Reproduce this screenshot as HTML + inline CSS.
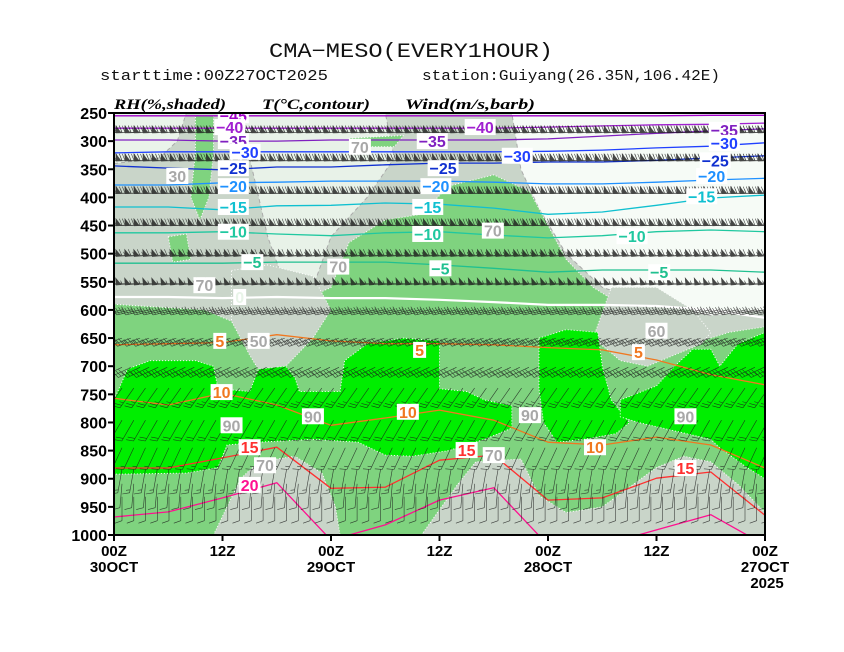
<!DOCTYPE html>
<html><head><meta charset="utf-8"><style>
html,body{margin:0;padding:0;background:#fff;}
svg{display:block;}
</style></head><body>
<svg id="chart" width="844" height="652" viewBox="0 0 844 652" xmlns="http://www.w3.org/2000/svg">
<defs><clipPath id="plotclip"><rect x="114" y="113" width="651" height="422"/></clipPath></defs>
<text x="269" y="57" font-family="Liberation Mono, monospace" font-size="20" textLength="284" lengthAdjust="spacingAndGlyphs" fill="#111">CMA−MESO(EVERY1HOUR)</text>
<text x="100" y="80" font-family="Liberation Mono, monospace" font-size="15" textLength="228" lengthAdjust="spacingAndGlyphs" fill="#111">starttime:00Z27OCT2025</text>
<text x="422" y="80" font-family="Liberation Mono, monospace" font-size="15" textLength="298" lengthAdjust="spacingAndGlyphs" fill="#111">station:Guiyang(26.35N,106.42E)</text>
<text x="114" y="109" font-family="Liberation Serif, serif" font-size="15" font-style="italic" font-weight="bold" textLength="112" lengthAdjust="spacingAndGlyphs">RH(%,shaded)</text>
<text x="262" y="109" font-family="Liberation Serif, serif" font-size="15" font-style="italic" font-weight="bold" textLength="108" lengthAdjust="spacingAndGlyphs">T(°C,contour)</text>
<text x="405" y="109" font-family="Liberation Serif, serif" font-size="15" font-style="italic" font-weight="bold" textLength="130" lengthAdjust="spacingAndGlyphs">Wind(m/s,barb)</text>
<g id="plot" clip-path="url(#plotclip)"></g>
<g id="axes"></g>
</svg>
<script>
// ---- data ----
const hours = [0,6,12,18,24,30,36,42,48,54,60,66,72];
const isoLevels = [-45,-40,-35,-30,-25,-20,-15,-10,-5,0,5,10,15,20];
const isoColors = ["#a000c8","#a020d0","#8020c0","#2040ff","#1030d0","#1e90ff","#10c0d0","#20c8a0","#20c090","#ffffff","#f07820","#f07820","#ff3030","#ff1090"];
const isoM45 = [255,255,255,255,255,255,255,255,255,255,255,254,254];
const isoM40 = [277,277,277,277,277,277,277,277,275,273,271,270,268];
const isoM35 = [298,298,300,300,298,298,298,298,296,291,286,282,278];
const isoM30 = [321,319,319,319,319,319,319,319,318,316,312,309,303];
const isoM25 = [344,348,351,346,346,342,339,339,337,337,334,330,326];
const isoM20 = [378,378,374,373,371,371,371,373,376,376,373,369,366];
const isoM15 = [417,417,422,415,414,410,412,419,430,426,414,401,396];
const isoM10 = [463,463,461,465,468,463,461,467,472,468,461,458,461];
const isoM5 = [517,517,517,515,515,515,520,526,533,529,529,529,533];
const iso0 = [577,577,579,577,579,579,582,586,591,591,593,600,614];
const iso5 = [662,660,658,644,655,660,660,662,667,671,689,715,733];
const iso10 = [757,769,748,769,805,792,778,796,835,840,826,840,881];
const iso15 = [881,881,863,844,917,915,867,858,938,934,899,888,965];
const iso20 = [968,959,934,907,1009,982,938,916,1018,1018,991,964,1018];
const isoSeries = [isoM45,isoM40,isoM35,isoM30,isoM25,isoM20,isoM15,isoM10,isoM5,iso0,iso5,iso10,iso15,iso20];
const isoLabels = [["-45",13.2,254,0],["-40",12.8,275,1],["-40",40.5,275,1],["-35",13.2,300,2],["-35",35.2,300,2],["-35",67.5,280,2],
 ["-30",14.5,319,3],["-30",44.6,326,3],["-30",67.5,303,3],["-25",13.2,348,4],["-25",36.4,348,4],["-25",66.5,334,4],
 ["-20",13.2,380,5],["-20",35.6,380,5],["-20",66.1,362,5],["-15",13.2,417,6],["-15",34.7,417,6],["-15",65,398,6],
 ["-10",13.2,461,7],["-10",34.7,465,7],["-10",57.3,469,7],["-5",15.3,515,8],["-5",36.1,526,8],["-5",60.3,533,8],
 ["0",13.9,577,9],["5",11.7,655,10],["5",33.8,671,10],["5",58,675,10],["10",11.9,746,11],["10",32.5,781,11],["10",53.2,844,11],
 ["15",15,844,12],["15",39,849,12],["15",63.2,881,12],["20",15,911,13]];
const rhLabels = [["70",27.2,310],["30",7,362],["70",10,556],["70",24.8,523],["70",41.9,459],["60",60,637],["50",16,655],
 ["90",13,805],["90",22,789],["90",46,787],["90",63.2,789],["70",42,858],["70",16.7,876]];
const rhLight1 = [[0,250],[8,250],[7,300],[5,330],[0,340]];
const rhLight2 = [[14,250],[30,250],[31,330],[28,400],[24,470],[22,560],[23,640],[20,640],[19,560],[17,470],[16,400],[15,330]];
const rhWhite1 = [[44,250],[72,250],[72,600],[66,610],[60,590],[54,560],[50,500],[47,420],[45,350]];
const rhGreen1 = [[0,590],[10,600],[13,620],[20,590],[24,560],[26,480],[28,460],[30,440],[34,430],[37,380],[42,360],[46,390],[48,450],[50,510],[53,560],[57,600],[60,640],[64,660],[68,640],[72,630],[72,1000],[0,1000]];
const rhGreen2 = [[9,255],[11,255],[11,320],[10.5,400],[9.5,440],[8.5,400],[9,320]];
const rhGreen3 = [[6,470],[8,465],[8.5,510],[6.5,515]];
const rhGreen4 = [[26,295],[32,290],[31,310],[27,310]];
const rhGray1 = [[13,530],[17,520],[22,540],[24,600],[22,650],[19,700],[16.5,720],[15,680],[13,620]];
const rhGray2 = [[11,1000],[14,900],[16,870],[20,860],[23,890],[24.5,950],[25,1000]];
const rhGray3 = [[34,1000],[38,910],[40,870],[45,865],[47,930],[50,960],[54,950],[60,880],[63,860],[66,870],[69,910],[72,960],[72,1000]];
const rhGray4 = [[55,560],[60,560],[64,600],[66,640],[65,660],[62,680],[59,700],[56,690],[53,650]];
const rhSat1 = [[1.5,705],[4,690],[9,690],[11,700],[11.5,740],[15,745],[16,705],[19,700],[20,720],[20.5,745],[25,745],[25.5,690],[28,660],[32,650],[36,655],[36,740],[39,745],[41,760],[44,770],[44,810],[41,830],[37,850],[33,860],[30,858],[27,835],[22,830],[16,835],[12.5,840],[11.5,880],[8,890],[0,892],[0,760]];
const rhSat2 = [[47,650],[50,635],[53.5,640],[54,700],[55,760],[57,800],[55.5,820],[52,830],[49,835],[47.5,800],[47,740]];
const rhSat3 = [[56,760],[60,735],[62,700],[64,670],[66,670],[67,700],[69,660],[72,640],[72,900],[70,880],[67,845],[66,830],[62,815],[58,800],[56,790]];
const barbP = [284,334,392,449,502,552,600,650,702,739,796,845,883,909,932];
const barbDir = [268,268,268,268,266,265,258,250,245,215,210,205,190,185,180];
const barbSpd = [38,36,34,30,26,22,16,14,12,10,8,6,5,4,4];
const yTicks = [250,300,350,400,450,500,550,600,650,700,750,800,850,900,950,1000];
const xTicks = [0,12,24,36,48,60,72];
const xTickTop = ["00Z","12Z","00Z","12Z","00Z","12Z","00Z"];
const xTickBottom = ["30OCT","","29OCT","","28OCT","","27OCT"];

const X0=114, X1=765, Y0=113, Y1=535;
function xh(h){return X0+h*(X1-X0)/72;}
function yp(p){return Y0+(p-250)*(Y1-Y0)/750;}
const NS="http://www.w3.org/2000/svg";
const plot=document.getElementById('plot');
const axes=document.getElementById('axes');
function mk(tag,attrs,parent){const e=document.createElementNS(NS,tag);for(const k in attrs)e.setAttribute(k,attrs[k]);parent.appendChild(e);return e;}

let bg=mk('rect',{x:X0,y:Y0,width:X1-X0,height:Y1-Y0,fill:'#c9d5c9'},plot);



function region(pts,fill,name,stroke,dash){
  const d=pts.map(q=>xh(q[0]).toFixed(1)+','+yp(q[1]).toFixed(1)).join(' ');
  const e=mk('polygon',{points:d,fill:fill,stroke:stroke||'none','stroke-width':1,'stroke-dasharray':dash||'none','stroke-linejoin':'round'},plot);
  
  
}
region(rhLight1,'#eaf4ea','rh-region-light','#aaa','4,3');
region(rhLight2,'#e8f2e8','rh-region-light','#aaa','4,3');
region(rhWhite1,'#f6fbf6','rh-region-dry','#aaa','4,3');
region(rhGreen1,'#7fd37f','rh-region-moist','#fff','1,2');
region(rhGreen2,'#7fd37f','rh-region-moist','#fff','1,2');
region(rhGreen3,'#7fd37f','rh-region-moist','#fff','1,2');
region(rhGreen4,'#7fd37f','rh-region-moist','#fff','1,2');
region(rhGray1,'#c9d5c9','rh-region-mid','#fff','1,2');
region(rhGray2,'#c9d5c9','rh-region-mid','#fff','1,2');
region(rhGray3,'#c9d5c9','rh-region-mid','#fff','1,2');
region(rhGray4,'#c9d5c9','rh-region-mid','#fff','1,2');
region(rhSat1,'#00ee00','rh-region-saturated','#fff','1,2');
region(rhSat2,'#00ee00','rh-region-saturated','#fff','1,2');
region(rhSat3,'#00ee00','rh-region-saturated','#fff','1,2');

isoSeries.forEach((ser,i)=>{
  const pts=ser.map((p,j)=>xh(hours[j]).toFixed(1)+','+yp(p).toFixed(1)).join(' ');
  const e=mk('polyline',{points:pts,fill:'none',stroke:isoColors[i],'stroke-width':isoLevels[i]===0?2.2:1.3,'stroke-linejoin':'round'},plot);
  
  
});

const bg2=mk('g',{stroke:'#1a1a1a','stroke-width':0.6,fill:'#1a1a1a',opacity:0.8},plot);


function barb(x,y,dir,spd,L){
  const r=dir*Math.PI/180, sx=Math.sin(r), sy=-Math.cos(r);
  const fx=-sy, fy=sx;
  const tx=x+sx*L, ty=y+sy*L;
  let d='M'+x.toFixed(1)+' '+y.toFixed(1)+'L'+tx.toFixed(1)+' '+ty.toFixed(1);
  let s=Math.round(spd/2)*2, pos=0;
  let flags=Math.floor(s/20); s-=flags*20;
  let full=Math.floor(s/4); s-=full*4;
  let half=s>=2?1:0;
  let poly='';
  for(let k=0;k<flags;k++){
    const ax=tx-sx*pos, ay=ty-sy*pos, bx=ax-sx*5, by=ay-sy*5;
    poly+='M'+ax.toFixed(1)+' '+ay.toFixed(1)+'L'+(ax+fx*7).toFixed(1)+' '+(ay+fy*7).toFixed(1)+'L'+bx.toFixed(1)+' '+by.toFixed(1)+'Z';
    pos+=6;
  }
  for(let k=0;k<full;k++){
    const ax=tx-sx*pos, ay=ty-sy*pos;
    d+='M'+ax.toFixed(1)+' '+ay.toFixed(1)+'L'+(ax+fx*7+sx*2.5).toFixed(1)+' '+(ay+fy*7+sy*2.5).toFixed(1);
    pos+=3;
  }
  if(half){
    if(pos===0)pos=3;
    const ax=tx-sx*pos, ay=ty-sy*pos;
    d+='M'+ax.toFixed(1)+' '+ay.toFixed(1)+'L'+(ax+fx*4+sx*1.2).toFixed(1)+' '+(ay+fy*4+sy*1.2).toFixed(1);
  }
  const e=mk('path',{d:d+poly},bg2);
  
  
}
barbP.forEach((p,i)=>{
  const step=barbDir[i]<240?1.3:1;
  for(let h=0;h<=73;h+=step){
    barb(xh(h)+8,yp(p),barbDir[i],barbSpd[i],24);
  }
});

function label(txt,h,p,color,name){
  const x=xh(h), y=yp(p);
  const w=txt.length*9+4;
  const r=mk('rect',{x:x-w/2,y:y-8,width:w,height:16,fill:'#fff'},plot);
  
  
  const t=mk('text',{x:x,y:y+6,'text-anchor':'middle','font-size':16,'font-weight':'bold','font-family':'Liberation Sans, sans-serif',fill:color},plot);
  t.textContent=txt.replace('-','−');
  
  
}
rhLabels.forEach(l=>label(l[0],l[1],l[2],'#a8a8a8','rh-contour-label'));
isoLabels.forEach(l=>label(l[0],l[1],l[2],isoLevels[l[3]]===0?'#e8f4e8':isoColors[l[3]],'isotherm-label'));

let fr=mk('rect',{x:X0,y:Y0,width:X1-X0,height:Y1-Y0,fill:'none',stroke:'#000','stroke-width':2},axes);


yTicks.forEach(p=>{
  const y=yp(p);
  const l=mk('line',{x1:X0-6,x2:X0,y1:y,y2:y,stroke:'#000','stroke-width':2},axes);
  
  
  const t=mk('text',{x:X0-7,y:y+6,'text-anchor':'end','font-size':16,'font-weight':'bold','font-family':'Liberation Sans, sans-serif',fill:'#000'},axes);
  t.textContent=p;
  
  
});
xTicks.forEach((h,i)=>{
  const x=xh(h);
  const l=mk('line',{x1:x,x2:x,y1:Y1,y2:Y1+6,stroke:'#000','stroke-width':2},axes);
  
  
  const t=mk('text',{x:x,y:Y1+21,'text-anchor':'middle','font-size':15,'font-weight':'bold','font-family':'Liberation Sans, sans-serif',fill:'#000'},axes);
  t.textContent=xTickTop[i];
  
  
  if(xTickBottom[i]){
    const t2=mk('text',{x:x,y:Y1+37,'text-anchor':'middle','font-size':15,'font-weight':'bold','font-family':'Liberation Sans, sans-serif',fill:'#000'},axes);
    t2.textContent=xTickBottom[i];
    
    
  }
});
const yr=mk('text',{x:X1+2,y:Y1+53,'text-anchor':'middle','font-size':15,'font-weight':'bold','font-family':'Liberation Sans, sans-serif',fill:'#000'},axes);
yr.textContent='2025';


</script>
</body></html>
